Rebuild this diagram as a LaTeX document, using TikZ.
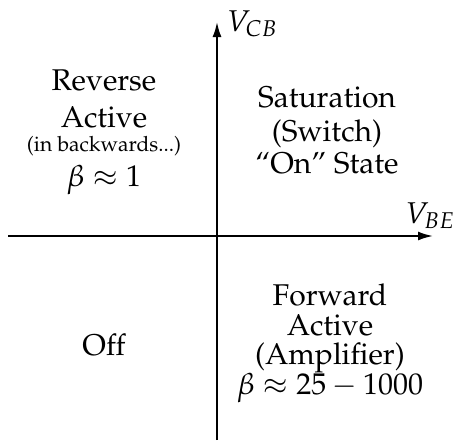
\documentclass[tikz,border=0pt]{standalone}
\usepackage[T1]{fontenc}
\usepackage{mathpazo}
\usetikzlibrary{arrows.meta}
\begin{document}
\begin{tikzpicture}[x=1pt,y=-1pt,
  axis/.style={line width=2pt,-{Latex[length=15pt,width=9pt]}},
  big/.style={font=\fontsize{30}{36}\selectfont,inner sep=0pt,anchor=base},
  small/.style={font=\fontsize{21}{25}\selectfont,inner sep=0pt,anchor=base}]
\useasboundingbox (0,0) rectangle (456,445);
\coordinate (hl) at (8,236);
\coordinate (hr) at (433,236);
\coordinate (vb) at (217,440);
\coordinate (vt) at (217,22);
\draw[axis] (hl) -- (hr);
\draw[axis] (vb) -- (vt);
\node[big] (vcb) at (252,31) {$V_{CB}$};
\node[big] (vbe) at (430,223) {$V_{BE}$};
\node[big] (ra1) at (104,90) {Reverse};
\node[big] (ra2) at (104,127) {Active};
\node[small] (ra3) at (104,151) {(in backwards...)};
\node[big] (ra4) at (104,186) {$\beta\approx 1$};
\node[big] (sa1) at (327,107) {Saturation};
\node[big] (sa2) at (327,141) {(Switch)};
\node[big] (sa3) at (327,173) {``On'' State};
\node[big] (fa1) at (330,305) {Forward};
\node[big] (fa2) at (330,335) {Active};
\node[big] (fa3) at (330,364) {(Amplifier)};
\node[big] (fa4) at (330,394) {$\beta\approx 25-1000$};
\node[big] (off) at (104,355) {Off};
\end{tikzpicture}
\end{document}
